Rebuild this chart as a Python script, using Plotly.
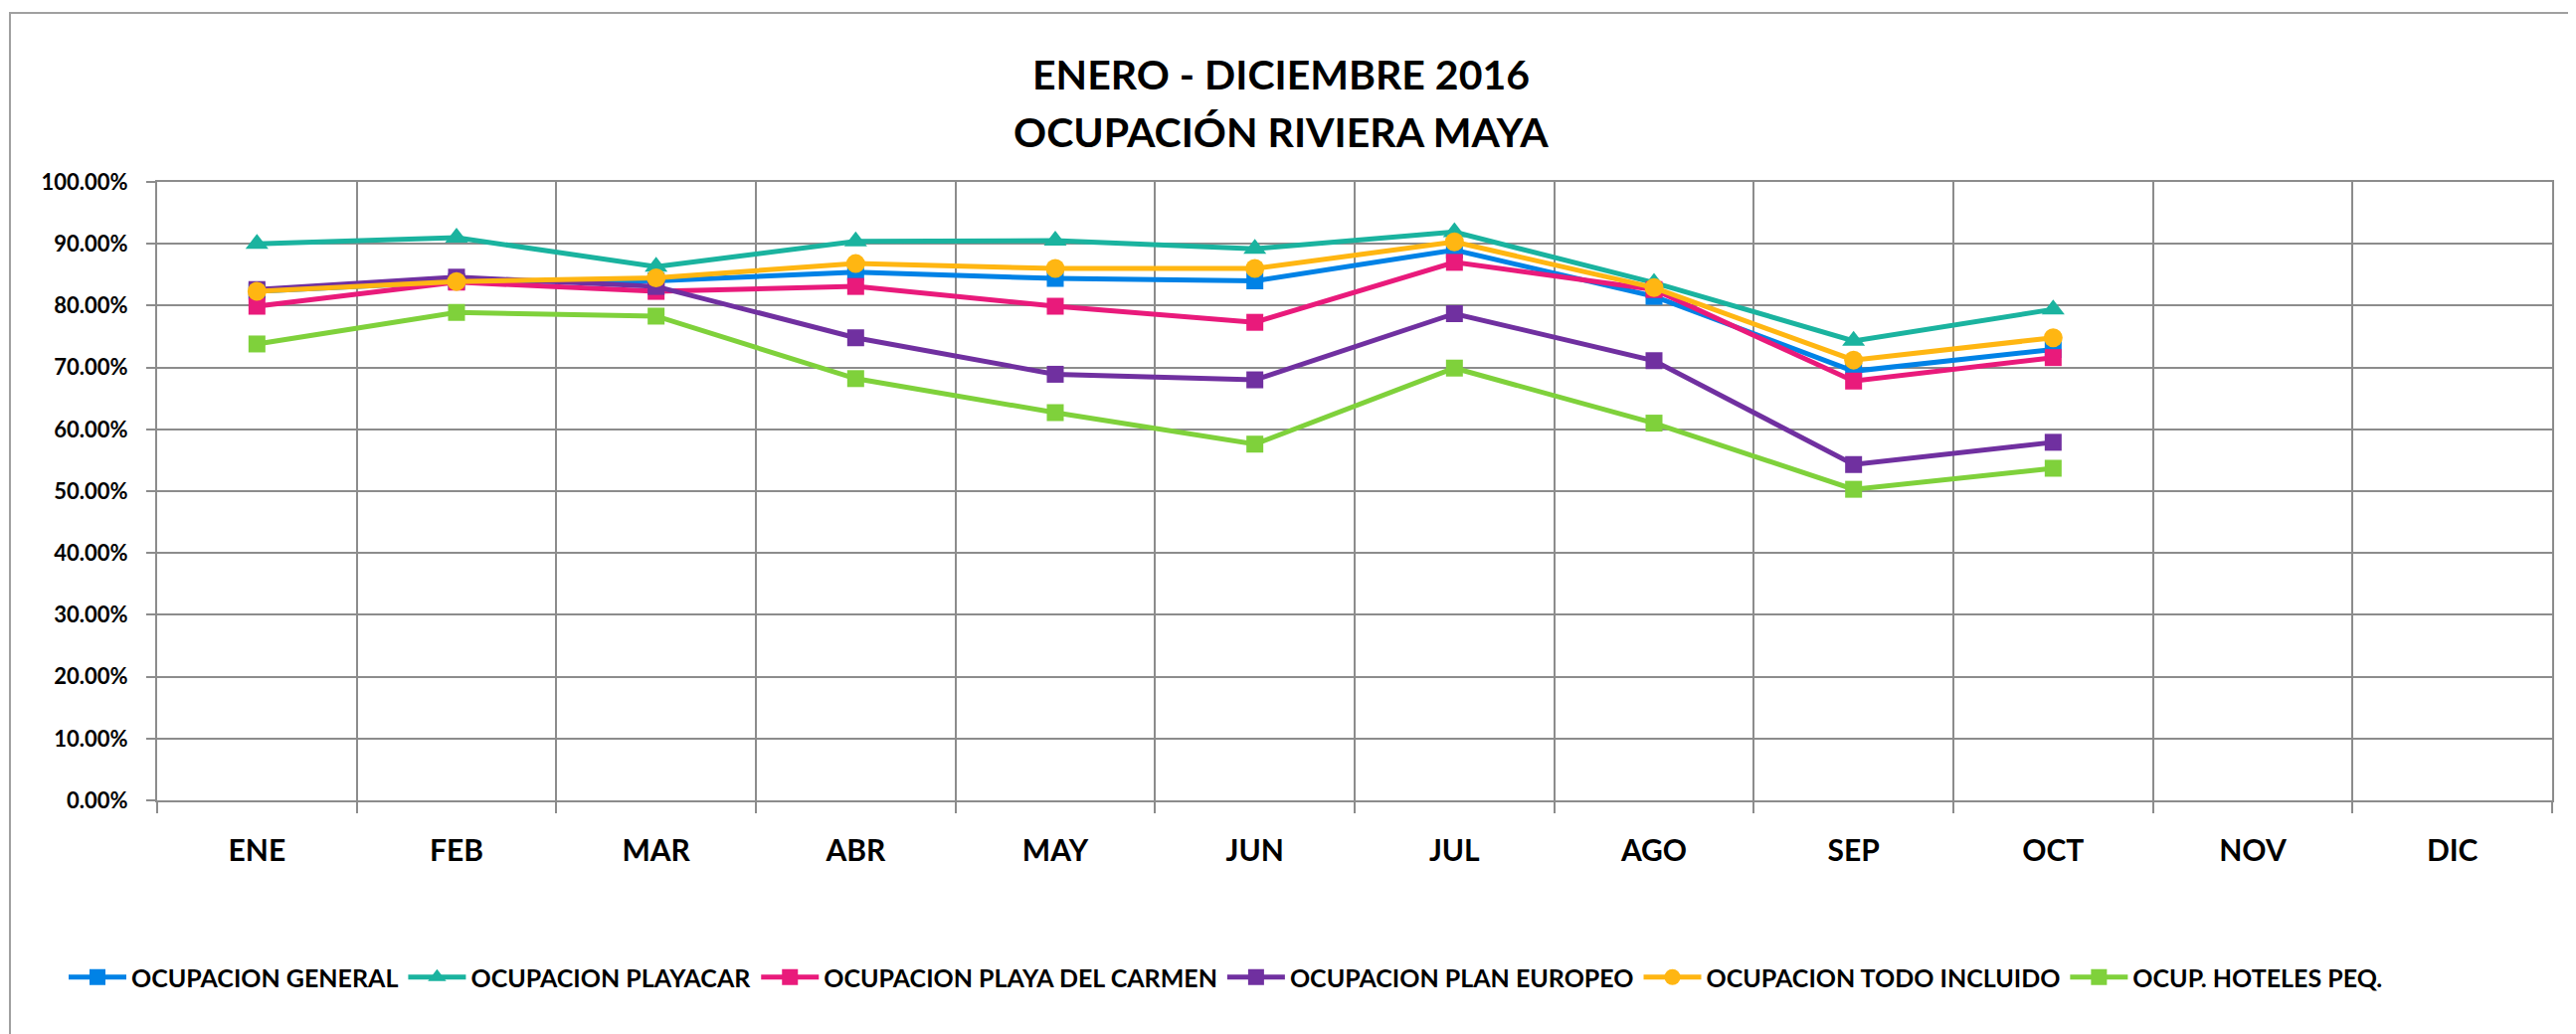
import plotly.graph_objects as go

months = ["ENE", "FEB", "MAR", "ABR", "MAY", "JUN", "JUL", "AGO", "SEP", "OCT", "NOV", "DIC"]

ocup_general = [0.823, 0.839, 0.840, 0.854, 0.844, 0.840, 0.890, 0.815, 0.694, 0.729, None, None]
ocup_playacar = [0.900, 0.910, 0.863, 0.904, 0.905, 0.892, 0.919, 0.837, 0.743, 0.794, None, None]
ocup_playa_carmen = [0.799, 0.838, 0.823, 0.831, 0.799, 0.773, 0.870, 0.826, 0.678, 0.716, None, None]
ocup_plan_europeo = [0.826, 0.846, 0.831, 0.748, 0.689, 0.680, 0.787, 0.711, 0.543, 0.579, None, None]
ocup_todo_incluido = [0.823, 0.839, 0.845, 0.868, 0.860, 0.860, 0.903, 0.829, 0.712, 0.748, None, None]
ocup_hoteles_peq = [0.738, 0.789, 0.783, 0.682, 0.627, 0.576, 0.699, 0.610, 0.503, 0.537, None, None]

series_names = ["OCUPACION GENERAL", "OCUPACION PLAYACAR", "OCUPACION PLAYA DEL CARMEN",
                "OCUPACION PLAN EUROPEO", "OCUPACION TODO INCLUIDO", "OCUP. HOTELES PEQ."]
y_ticks = [0, 0.1, 0.2, 0.3, 0.4, 0.5, 0.6, 0.7, 0.8, 0.9, 1.0]

series_values = [ocup_general, ocup_playacar, ocup_playa_carmen, ocup_plan_europeo,
                 ocup_todo_incluido, ocup_hoteles_peq]
colors = ["#0082E6", "#1AB39F", "#E91A7B", "#7030A0", "#FFB612", "#7FD13B"]
symbols = ["square", "triangle-up", "square", "square", "circle", "square"]
msizes = [17, 20, 17, 17, 19, 17]

FONT = "Lato"
OFF = 8  # default page body margin
W, H = 2590 - OFF, 1040 - OFF
L, T = 158 - OFF, 183 - OFF
R = W - (2566 - OFF)
B = H - (805 - OFF)
PW = W - L - R
PH = H - T - B


def px_x(x):
    return (x - 158) / PW


def px_y(y):
    return (805 - y) / PH


fig = go.Figure()
for name, vals, c, s, ms in zip(series_names, series_values, colors, symbols, msizes):
    fig.add_trace(go.Scatter(
        x=months, y=vals, name=name, mode="lines+markers",
        line=dict(color=c, width=5),
        marker=dict(color=c, symbol=s, size=ms, line=dict(width=0)),
        connectgaps=False,
    ))

grid = "#8C8C8C"
fig.update_layout(
    width=W, height=H,
    margin=dict(l=L, r=R, t=T, b=B, autoexpand=False),
    paper_bgcolor="white", plot_bgcolor="white",
    font=dict(family=FONT, color="black"),
    showlegend=True,
    legend=dict(
        orientation="h", x=px_x(64), xanchor="left",
        y=px_y(983), yanchor="middle",
        font=dict(family=FONT, size=25, color="black", weight="bold"),
        bgcolor="rgba(0,0,0,0)", itemwidth=58, tracegroupgap=0,
    ),
    xaxis=dict(
        type="category", categoryorder="array", categoryarray=months,
        range=[-0.5, 11.5], tickson="boundaries", automargin=False,
        showgrid=True, gridcolor=grid, gridwidth=2,
        showline=True, linecolor=grid, linewidth=2, mirror=True,
        ticks="outside", ticklen=11, tickcolor=grid, tickwidth=2,
        tickfont=dict(family=FONT, size=30, color="black", weight="bold"),
        ticklabelstandoff=23,
        zeroline=False,
    ),
    yaxis=dict(
        range=[0, 1], tickvals=y_ticks, tickformat=".2%", automargin=False,
        showgrid=True, gridcolor=grid, gridwidth=2,
        showline=True, linecolor=grid, linewidth=2, mirror=True,
        ticks="outside", ticklen=9, tickcolor=grid, tickwidth=2,
        tickfont=dict(family=FONT, size=22, color="black", weight="bold"),
        ticklabelstandoff=14,
        zeroline=False,
    ),
    annotations=[
        dict(text="ENERO - DICIEMBRE 2016", xref="paper", yref="paper",
             x=px_x(1288), y=px_y(75), xanchor="center", yanchor="middle",
             showarrow=False, font=dict(family=FONT, size=41, color="black", weight="bold")),
        dict(text="OCUPACIÓN RIVIERA MAYA", xref="paper", yref="paper",
             x=px_x(1288), y=px_y(132), xanchor="center", yanchor="middle",
             showarrow=False, font=dict(family=FONT, size=41, color="black", weight="bold")),
    ],
    shapes=[
        dict(type="rect", xref="paper", yref="paper",
             x0=px_x(10), x1=px_x(2640),
             y0=px_y(1080), y1=px_y(13),
             line=dict(color="#A0A0A0", width=2), fillcolor="rgba(0,0,0,0)", layer="below"),
    ],
)

fig.write_html("out.html")
